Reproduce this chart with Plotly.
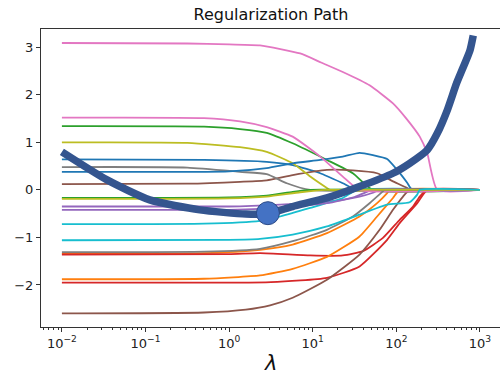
import plotly.graph_objects as go

# ---- data (log10 lambda knots, coefficient values) ----
tab10 = ["#1f77b4", "#ff7f0e", "#2ca02c", "#d62728", "#9467bd",
         "#8c564b", "#e377c2", "#7f7f7f", "#bcbd22", "#17becf"]

blue_a_x = [-2, -0.3, 0.45, 0.76, 1.09, 1.36, 1.53, 3]
blue_a_y = [0.64, 0.63, 0.59, 0.52, 0.35, 0.14, 0, 0]
blue_b_x = [-2, 0.0, 0.45, 0.76, 1.09, 1.36, 1.56, 1.72, 1.89, 2.01, 2.13, 2.19, 3]
blue_b_y = [0.38, 0.39, 0.46, 0.56, 0.63, 0.70, 0.78, 0.73, 0.65, 0.42, 0.15, 0, 0]
orange_a_x = [-2, -0.3, 0.37, 0.76, 1.17, 1.56, 1.77, 1.89, 1.92, 3]
orange_a_y = [-1.34, -1.33, -1.26, -1.15, -0.91, -0.56, -0.28, -0.07, 0, 0]
orange_b_x = [-2, -0.3, 0.37, 0.76, 1.17, 1.56, 1.77, 1.96, 2.04, 3]
orange_b_y = [-1.88, -1.87, -1.80, -1.66, -1.41, -0.98, -0.56, -0.17, 0, 0]
green_a_x = [-2, -0.3, 0.13, 0.45, 0.76, 1.17, 1.48, 1.72, 3]
green_a_y = [1.34, 1.33, 1.28, 1.20, 0.98, 0.63, 0.35, 0, 0]
green_b_x = [-2, 0.0, 0.45, 0.76, 0.97, 3]
green_b_y = [-0.17, -0.16, -0.12, -0.04, 0, 0]
red_a_x = [-2, 0.0, 0.37, 0.97, 1.36, 1.60, 1.84, 2.04, 2.20, 2.28, 2.37, 3]
red_a_y = [-1.36, -1.35, -1.33, -1.38, -1.38, -1.29, -1.01, -0.63, -0.35, -0.14, 0, 0]
red_b_x = [-2, 0.5, 1.17, 1.56, 1.89, 2.04, 2.25, 2.37, 3]
red_b_y = [-1.95, -1.94, -1.85, -1.61, -1.05, -0.70, -0.28, 0, 0]
purple_a_x = [-2, 0.0, 0.61, 1.17, 1.56, 1.72, 1.80, 3]
purple_a_y = [-0.35, -0.35, -0.31, -0.25, -0.14, -0.06, 0, 0]
purple_b_x = [-2, 0.0, 0.37, 0.76, 1.17, 1.50, 1.72, 3]
purple_b_y = [-0.42, -0.42, -0.40, -0.35, -0.28, -0.15, 0, 0]
brown_a_x = [-2, -0.5, 0.13, 0.45, 0.76, 1.17, 1.48, 1.77, 1.96, 2.13, 2.16, 3]
brown_a_y = [0.12, 0.13, 0.17, 0.20, 0.31, 0.42, 0.41, 0.35, 0.18, 0.04, 0, 0]
brown_b_x = [-2, -0.3, 0.2, 0.49, 0.76, 1.17, 1.56, 1.80, 1.96, 2.08, 2.16, 3]
brown_b_y = [-2.60, -2.58, -2.52, -2.43, -2.27, -1.89, -1.36, -0.84, -0.42, -0.14, 0, 0]
pink_a_x = [-2, -0.5, 0.0, 0.37, 0.85, 1.1, 1.36, 1.68, 1.96, 2.12, 2.28, 2.37, 2.49, 3]
pink_a_y = [3.09, 3.08, 3.06, 3.04, 2.87, 2.68, 2.48, 2.20, 1.82, 1.50, 1.12, 0.77, 0, 0]
pink_b_x = [-2, -0.3, 0.13, 0.45, 0.76, 1.09, 1.36, 1.56, 3]
pink_b_y = [1.52, 1.51, 1.44, 1.32, 1.12, 0.70, 0.28, 0, 0]
gray_a_x = [-2, -0.5, 0.13, 0.45, 0.69, 0.97, 3]
gray_a_y = [0.48, 0.47, 0.38, 0.33, 0.14, 0, 0]
gray_b_x = [-2, -0.3, 0.37, 0.76, 1.17, 1.48, 1.68, 1.84, 1.86, 3]
gray_b_y = [-1.31, -1.30, -1.24, -1.08, -0.84, -0.56, -0.28, -0.03, 0, 0]
olive_a_x = [-2, -0.5, 0.13, 0.45, 0.76, 0.97, 1.17, 1.21, 3]
olive_a_y = [1.00, 0.99, 0.90, 0.80, 0.56, 0.28, 0.04, 0, 0]
olive_b_x = [-2, 0.0, 0.45, 0.85, 1.15, 3]
olive_b_y = [-0.19, -0.18, -0.14, -0.05, 0, 0]
cyan_a_x = [-2, -0.3, 0.37, 0.61, 0.97, 1.36, 1.53, 3]
cyan_a_y = [-0.72, -0.71, -0.65, -0.56, -0.38, -0.17, 0, 0]
cyan_b_x = [-2, 0.0, 0.37, 0.76, 1.17, 1.56, 1.89, 2.16, 2.25, 2.28, 3]
cyan_b_y = [-1.06, -1.05, -1.03, -0.94, -0.77, -0.52, -0.31, -0.26, -0.10, 0, 0]

# cross-validation error curve (scaled) and its minimum
cv_x = [-2, -1.46, -0.95, -0.35, 0.2, 0.46, 0.76, 1.17, 1.56, 1.96, 2.16, 2.37,
        2.49, 2.61, 2.72, 2.80, 2.88, 2.92]
cv_y = [0.80, 0.21, -0.21, -0.42, -0.51, -0.50, -0.35, -0.17, 0.07, 0.35, 0.56,
        0.84, 1.19, 1.68, 2.24, 2.58, 2.93, 3.25]
best_x = [0.464]
best_y = [-0.49]

xtick_exp = [-2, -1, 0, 1, 2, 3]
ytick_vals = [-2, -1, 0, 1, 2, 3]

paths = [
    (blue_a_x, blue_a_y), (orange_a_x, orange_a_y), (green_a_x, green_a_y),
    (red_a_x, red_a_y), (purple_a_x, purple_a_y), (brown_a_x, brown_a_y),
    (pink_a_x, pink_a_y), (gray_a_x, gray_a_y), (olive_a_x, olive_a_y),
    (cyan_a_x, cyan_a_y),
    (blue_b_x, blue_b_y), (orange_b_x, orange_b_y), (green_b_x, green_b_y),
    (red_b_x, red_b_y), (purple_b_x, purple_b_y), (brown_b_x, brown_b_y),
    (pink_b_x, pink_b_y), (gray_b_x, gray_b_y), (olive_b_x, olive_b_y),
    (cyan_b_x, cyan_b_y),
]

fig = go.Figure()
for i, (lx, ly) in enumerate(paths):
    fig.add_trace(go.Scatter(
        x=[10 ** v for v in lx], y=ly, mode="lines",
        line=dict(color=tab10[i % 10], width=1.8, shape="spline", smoothing=0.5),
        showlegend=False, hoverinfo="skip"))

fig.add_trace(go.Scatter(
    x=[10 ** v for v in cv_x], y=cv_y, mode="lines",
    line=dict(color="#34558f", width=7.5, shape="spline", smoothing=0.6),
    showlegend=False))
fig.add_trace(go.Scatter(
    x=[10 ** v for v in best_x], y=best_y, mode="markers",
    marker=dict(size=23, color="#4472c4", line=dict(color="#2c4a86", width=1)),
    showlegend=False))

minor_vals = [k * 10 ** e for e in range(-3, 4) for k in range(2, 10)]

fig.update_layout(
    width=500, height=375,
    margin=dict(l=41, r=0, t=29, b=48, autoexpand=False),
    paper_bgcolor="white", plot_bgcolor="white",
    font=dict(family="DejaVu Sans", color="#222"),
    title=dict(text="Regularization Path", x=0.542, xanchor="center",
               y=1 - 14 / 375, yanchor="middle", font=dict(size=16, color="#111")),
    xaxis=dict(
        type="log", range=[-2.25, 3.24], automargin=False,
        tickvals=[10 ** e for e in xtick_exp],
        ticktext=["10<sup>\u2212%d</sup>" % (-e) if e < 0 else "10<sup>%d</sup>" % e
                  for e in xtick_exp],
        ticks="outside", ticklen=4, tickcolor="#333", tickwidth=1,
        minor=dict(tickvals=minor_vals, ticks="outside", ticklen=2,
                   tickcolor="#333", showgrid=False),
        showline=True, linecolor="#333", linewidth=1, mirror=True,
        showgrid=False, zeroline=False, tickfont=dict(size=13, color="#222"),
    ),
    yaxis=dict(
        range=[-2.885, 3.385], tickvals=ytick_vals, automargin=False,
        ticktext=["\u22122", "\u22121", "0", "1", "2", "3"],
        ticks="outside", ticklen=4, tickcolor="#333", tickwidth=1,
        showline=True, linecolor="#333", linewidth=1, mirror=True,
        showgrid=False, zeroline=False, tickfont=dict(size=13, color="#222"),
    ),
    annotations=[dict(text="<i>λ</i>", xref="paper", yref="paper",
                      x=0.5, y=-36 / 298, xanchor="center", yanchor="middle",
                      showarrow=False, font=dict(size=21, color="#111"))],
)

fig.write_html("out.html", config={"displayModeBar": False},
               post_script="document.body.style.margin='0';")
